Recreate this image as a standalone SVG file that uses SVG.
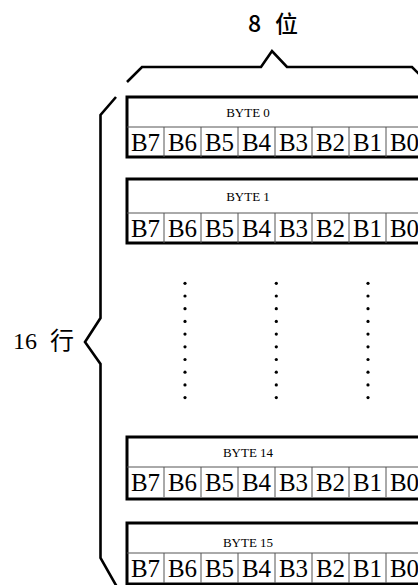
<svg xmlns="http://www.w3.org/2000/svg" width="418" height="585" viewBox="0 0 418 585">
<style>
.frame{fill:#fff;stroke:#000;stroke-width:3}
.thin{stroke:#555;stroke-width:1;fill:none}
.brace{fill:none;stroke:#000;stroke-width:2.6;stroke-linejoin:miter}
.lbl{font-family:"Liberation Serif","Times New Roman",serif;font-size:13px;text-anchor:middle;fill:#000}
.bit{font-family:"Liberation Serif","Times New Roman",serif;font-size:25px;text-anchor:middle;fill:#000}
.cap{font-family:"Liberation Serif","Noto Sans CJK SC",serif;font-size:24px;fill:#000}
.top{font-family:"Noto Sans CJK SC",sans-serif;font-size:23px;font-weight:500;fill:#000}
.dot{fill:#000}
</style>
<defs>
<g id="bits">
<text class="bit" x="145.5">B7</text>
<text class="bit" x="182.5">B6</text>
<text class="bit" x="219.5">B5</text>
<text class="bit" x="256.5">B4</text>
<text class="bit" x="293.5">B3</text>
<text class="bit" x="330.5">B2</text>
<text class="bit" x="367.5">B1</text>
<text class="bit" x="404.5">B0</text>
</g>
<path id="divs" class="thin" d="M164 0V30M201 0V30M238 0V30M275 0V30M312 0V30M349 0V30M386 0V30"/>
</defs>

<g id="title">
<text class="top" y="32"><tspan x="248">8 </tspan><tspan x="275">位</tspan></text>
</g>
<g id="rows-label">
<text class="cap" y="349"><tspan x="13">16 </tspan><tspan x="50" style="font-family:'Noto Sans CJK SC',sans-serif">行</tspan></text>
</g>

<g id="connectors">
<polyline class="brace" points="127,82 142,67 261,67 272,51 287,67 412,67 427,82"/>
<polyline class="brace" points="116,97 100.5,115 100.5,318 85,342 100.5,364 100.5,558 117,587"/>
</g>

<g id="byte0">
<rect class="frame" x="127" y="97" width="296" height="60"/>
<line class="thin" x1="127" y1="127" x2="423" y2="127"/>
<use href="#divs" transform="translate(0,127)"/>
<text class="lbl" x="248" y="117">BYTE 0</text>
<use href="#bits" transform="translate(0,151)"/>
</g>

<g id="byte1">
<rect class="frame" x="127" y="179" width="296" height="64"/>
<line class="thin" x1="127" y1="213" x2="423" y2="213"/>
<use href="#divs" transform="translate(0,213)"/>
<text class="lbl" x="248" y="201">BYTE 1</text>
<use href="#bits" transform="translate(0,237)"/>
</g>

<g id="ellipsis">
<g class="dot">
<circle cx="185" cy="283.3" r="1.6"/><circle cx="185" cy="296" r="1.6"/><circle cx="185" cy="308.7" r="1.6"/><circle cx="185" cy="321.4" r="1.6"/><circle cx="185" cy="334.1" r="1.6"/><circle cx="185" cy="346.8" r="1.6"/><circle cx="185" cy="359.5" r="1.6"/><circle cx="185" cy="372.2" r="1.6"/><circle cx="185" cy="384.9" r="1.6"/><circle cx="185" cy="397.6" r="1.6"/>
<circle cx="276.3" cy="283.3" r="1.6"/><circle cx="276.3" cy="296" r="1.6"/><circle cx="276.3" cy="308.7" r="1.6"/><circle cx="276.3" cy="321.4" r="1.6"/><circle cx="276.3" cy="334.1" r="1.6"/><circle cx="276.3" cy="346.8" r="1.6"/><circle cx="276.3" cy="359.5" r="1.6"/><circle cx="276.3" cy="372.2" r="1.6"/><circle cx="276.3" cy="384.9" r="1.6"/><circle cx="276.3" cy="397.6" r="1.6"/>
<circle cx="368" cy="283.3" r="1.6"/><circle cx="368" cy="296" r="1.6"/><circle cx="368" cy="308.7" r="1.6"/><circle cx="368" cy="321.4" r="1.6"/><circle cx="368" cy="334.1" r="1.6"/><circle cx="368" cy="346.8" r="1.6"/><circle cx="368" cy="359.5" r="1.6"/><circle cx="368" cy="372.2" r="1.6"/><circle cx="368" cy="384.9" r="1.6"/><circle cx="368" cy="397.6" r="1.6"/>
</g>
</g>

<g id="byte14">
<rect class="frame" x="127" y="437" width="296" height="62"/>
<line class="thin" x1="127" y1="467" x2="423" y2="467"/>
<use href="#divs" transform="translate(0,467)"/>
<text class="lbl" x="248" y="457">BYTE 14</text>
<use href="#bits" transform="translate(0,491)"/>
</g>

<g id="byte15">
<rect class="frame" x="127" y="523" width="296" height="61"/>
<line class="thin" x1="127" y1="553" x2="423" y2="553"/>
<use href="#divs" transform="translate(0,553)"/>
<text class="lbl" x="248" y="547">BYTE 15</text>
<use href="#bits" transform="translate(0,577)"/>
</g>
</svg>
